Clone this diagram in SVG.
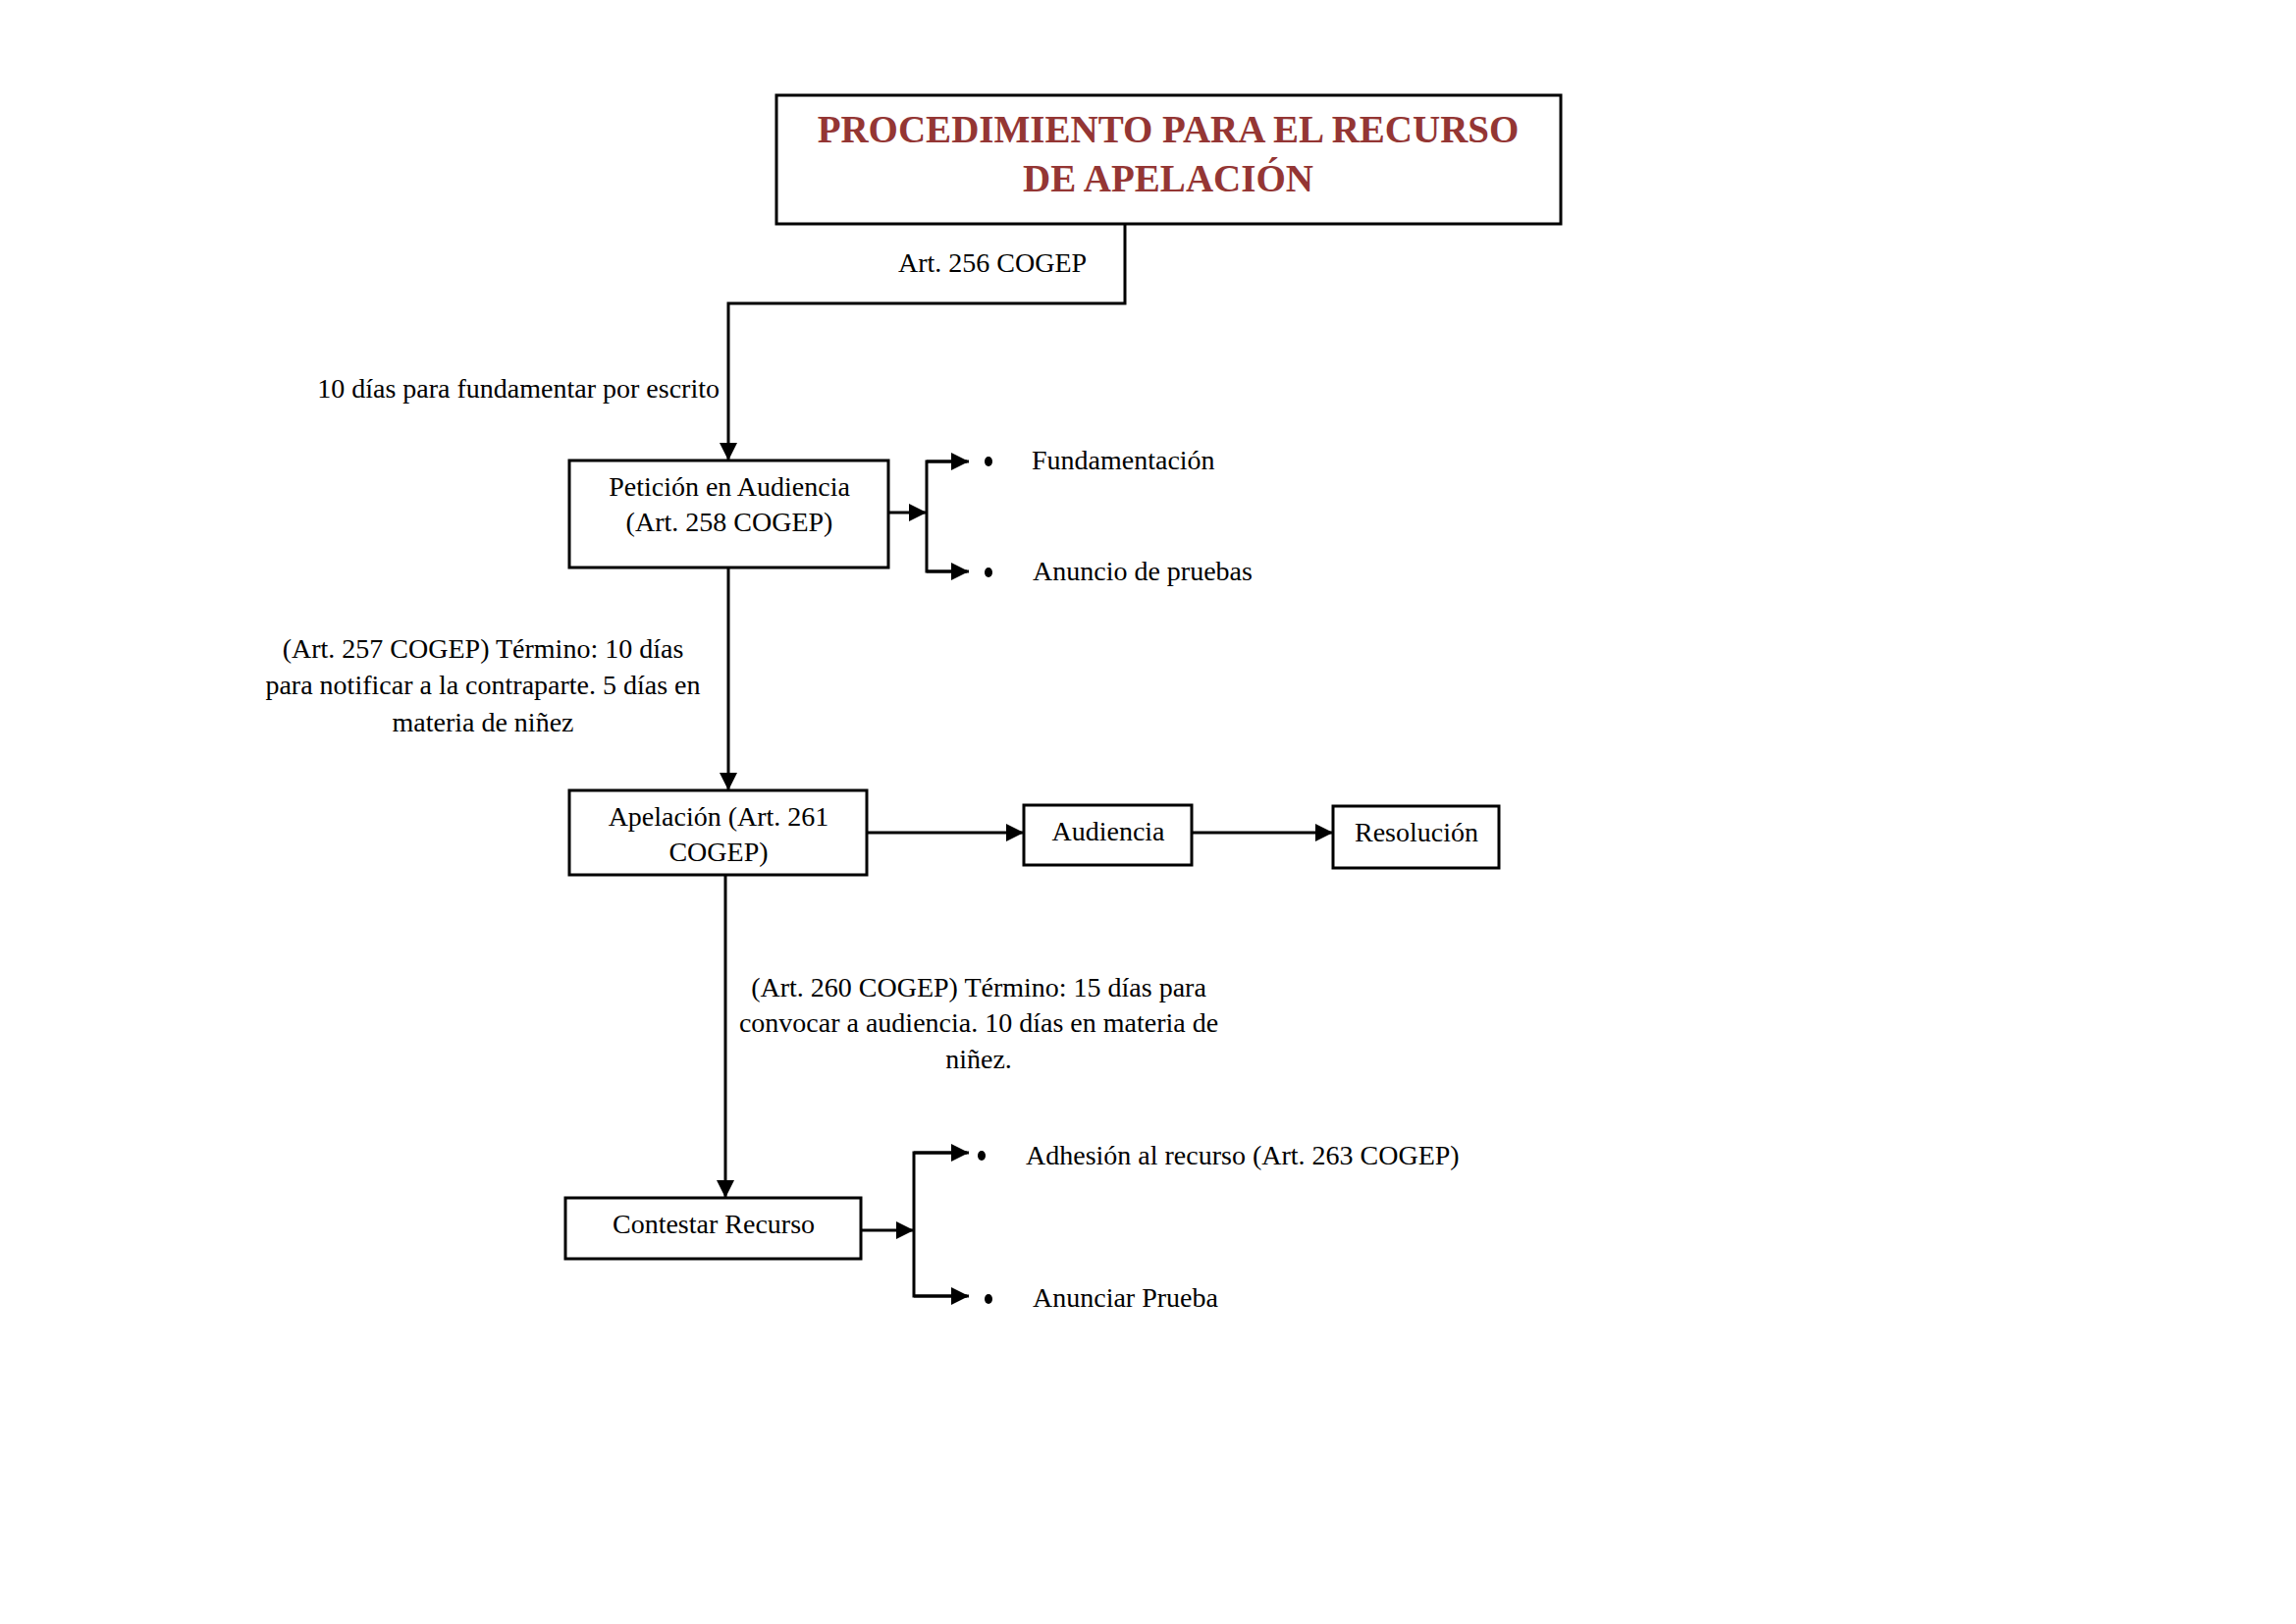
<svg xmlns="http://www.w3.org/2000/svg" width="2339" height="1654" viewBox="0 0 2339 1654">
  <style>
    .box { fill: #ffffff; stroke: #000000; stroke-width: 3; }
    .conn { fill: none; stroke: #000000; stroke-width: 3; }
    .t { font-family: "Liberation Serif", "Times New Roman", serif; font-size: 28px; fill: #000000; }
    .mid { text-anchor: middle; }
    .title { font-family: "Liberation Serif", "Times New Roman", serif; font-size: 39px; font-weight: bold; fill: #943634; text-anchor: middle; }
    .dot { fill: #000000; }
  </style>
  <defs>
    <marker id="arrow" viewBox="0 0 10 10" refX="10" refY="5" markerUnits="userSpaceOnUse" markerWidth="20" markerHeight="18" orient="auto">
      <path d="M0,0 L10,5 L0,10 z" fill="#000000"/>
    </marker>
  </defs>
  <rect width="2339" height="1654" fill="#ffffff"/>

  <g id="connectors">
    <polyline class="conn" points="1146,228 1146,309 742,309 742,469" marker-end="url(#arrow)"/>
    <line class="conn" x1="905" y1="522" x2="944" y2="522" marker-end="url(#arrow)"/>
    <polyline class="conn" points="985,470 944,470 944,582 985,582"/>
    <line class="conn" x1="944" y1="470" x2="987" y2="470" marker-end="url(#arrow)"/>
    <line class="conn" x1="944" y1="582" x2="987" y2="582" marker-end="url(#arrow)"/>
    <line class="conn" x1="742" y1="578" x2="742" y2="805" marker-end="url(#arrow)"/>
    <line class="conn" x1="883" y1="848" x2="1043" y2="848" marker-end="url(#arrow)"/>
    <line class="conn" x1="1214" y1="848" x2="1358" y2="848" marker-end="url(#arrow)"/>
    <line class="conn" x1="739" y1="891" x2="739" y2="1220" marker-end="url(#arrow)"/>
    <line class="conn" x1="877" y1="1253" x2="931" y2="1253" marker-end="url(#arrow)"/>
    <polyline class="conn" points="985,1174 931,1174 931,1320 985,1320"/>
    <line class="conn" x1="931" y1="1174" x2="987" y2="1174" marker-end="url(#arrow)"/>
    <line class="conn" x1="931" y1="1320" x2="987" y2="1320" marker-end="url(#arrow)"/>
    <text class="t mid" x="1011" y="277">Art. 256 COGEP</text>
    <text class="t" x="733" y="405" text-anchor="end">10 días para fundamentar por escrito</text>
    <text class="t mid" x="492" y="670">(Art. 257 COGEP) Término: 10 días</text>
    <text class="t mid" x="492" y="707">para notificar a la contraparte. 5 días en</text>
    <text class="t mid" x="492" y="745">materia de niñez</text>
    <text class="t mid" x="997" y="1015">(Art. 260 COGEP) Término: 15 días para</text>
    <text class="t mid" x="997" y="1051">convocar a audiencia. 10 días en materia de</text>
    <text class="t mid" x="997" y="1088">niñez.</text>
  </g>

  <g id="title">
    <rect class="box" x="791" y="97" width="799" height="131"/>
    <text class="title" x="1190" y="145">PROCEDIMIENTO PARA EL RECURSO</text>
    <text class="title" x="1190" y="195">DE APELACIÓN</text>
  </g>

  <g id="peticion">
    <rect class="box" x="580" y="469" width="325" height="109"/>
    <text class="t mid" x="743" y="505">Petición en Audiencia</text>
    <text class="t mid" x="743" y="541">(Art. 258 COGEP)</text>
  </g>

  <g id="fundamentacion">
    <ellipse class="dot" cx="1007" cy="470" rx="4" ry="5"/>
    <text class="t" x="1051" y="478">Fundamentación</text>
  </g>

  <g id="anuncio-pruebas">
    <ellipse class="dot" cx="1007" cy="583" rx="4" ry="5"/>
    <text class="t" x="1052" y="591">Anuncio de pruebas</text>
  </g>

  <g id="apelacion">
    <rect class="box" x="580" y="805" width="303" height="86"/>
    <text class="t mid" x="732" y="841">Apelación (Art. 261</text>
    <text class="t mid" x="732" y="877">COGEP)</text>
  </g>

  <g id="audiencia">
    <rect class="box" x="1043" y="820" width="171" height="61"/>
    <text class="t mid" x="1129" y="856">Audiencia</text>
  </g>

  <g id="resolucion">
    <rect class="box" x="1358" y="821" width="169" height="63"/>
    <text class="t mid" x="1443" y="857">Resolución</text>
  </g>

  <g id="contestar">
    <rect class="box" x="576" y="1220" width="301" height="62"/>
    <text class="t mid" x="727" y="1256">Contestar Recurso</text>
  </g>

  <g id="adhesion">
    <ellipse class="dot" cx="1000" cy="1177" rx="4" ry="5"/>
    <text class="t" x="1045" y="1186">Adhesión al recurso (Art. 263 COGEP)</text>
  </g>

  <g id="anunciar-prueba">
    <ellipse class="dot" cx="1007" cy="1323" rx="4" ry="5"/>
    <text class="t" x="1052" y="1331">Anunciar Prueba</text>
  </g>
</svg>
